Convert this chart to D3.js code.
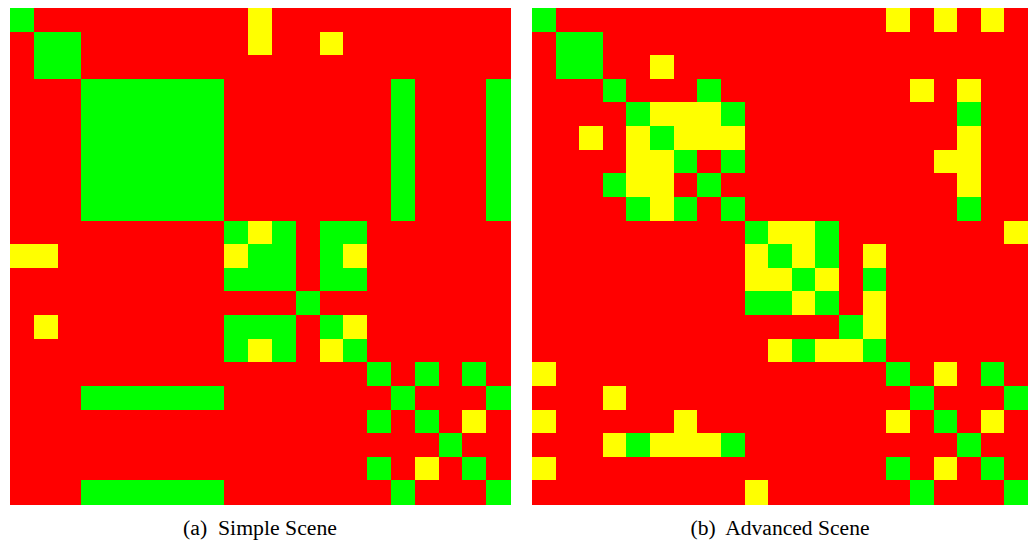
<!DOCTYPE html>
<html>
<head>
<meta charset="utf-8">
<script src="https://cdn.jsdelivr.net/npm/d3@7"></script>
<style>
  html, body { margin: 0; padding: 0; background: #ffffff; }
  svg { display: block; }
</style>
</head>
<body>
<svg id="chart" width="1028" height="541"></svg>
<script>
// Pairwise match levels between 21 scene elements.
// 0 = mismatch (red), 1 = partial (yellow), 2 = match (green)
const simpleScene = [
  "200000000010000000000",
  "022000000010010000000",
  "022000000000000000000",
  "000222222000000020002",
  "000222222000000020002",
  "000222222000000020002",
  "000222222000000020002",
  "000222222000000020002",
  "000222222000000020002",
  "000000000212022000000",
  "110000000122021000000",
  "000000000222022000000",
  "000000000000200000000",
  "010000000222021000000",
  "000000000212012000000",
  "000000000000000202020",
  "000222222000000020002",
  "000000000000000202010",
  "000000000000000000200",
  "000000000000000201020",
  "000222222000000020002"
];

const advancedScene = [
  "200000000000000101010",
  "022000000000000000000",
  "022001000000000000000",
  "000200020000000010100",
  "000021112000000000200",
  "001012111000000000100",
  "000011202000000001100",
  "000211020000000000100",
  "000021202000000000200",
  "000000000211200000001",
  "000000000121201000000",
  "000000000112102000000",
  "000000000221201000000",
  "000000000000021000000",
  "000000000012112000000",
  "100000000000000201020",
  "000100000000000020002",
  "100000100000000102010",
  "000121112000000000200",
  "100000000000000201020",
  "000000000100000020002"
];

const levels = [0, 1, 2];
const levelColors = ["#ff0000", "#ffff00", "#00ff00"];
const captions = ["(a)  Simple Scene", "(b)  Advanced Scene"];

const svg = d3.select("#chart");
const color = d3.scaleOrdinal().domain(levels).range(levelColors);

const panels = [
  { rows: simpleScene,   x0: 10,  x1: 510,  y0: 8, y1: 504, caption: captions[0], capWidth: 154 },
  { rows: advancedScene, x0: 532, x1: 1028, y0: 8, y1: 504, caption: captions[1], capWidth: 179 }
];

panels.forEach(p => {
  const n = p.rows.length;
  const idx = d3.range(n);
  const x = d3.scaleBand().domain(idx).range([p.x0, p.x1]).padding(0);
  const y = d3.scaleBand().domain(idx).range([p.y0, p.y1]).padding(0);

  const cells = [];
  p.rows.forEach((row, r) => {
    row.split("").forEach((ch, c) => cells.push({ r, c, v: +ch }));
  });

  const g = svg.append("g");
  g.selectAll("rect")
    .data(cells)
    .join("rect")
    .attr("x", d => x(d.c))
    .attr("y", d => y(d.r))
    .attr("width", x.bandwidth() + 0.5)
    .attr("height", y.bandwidth() + 0.5)
    .attr("fill", d => color(d.v))
    .attr("shape-rendering", "crispEdges");

  svg.append("text")
    .attr("x", (p.x0 + p.x1) / 2)
    .attr("y", 535)
    .attr("text-anchor", "middle")
    .attr("font-family", "'Liberation Serif', 'DejaVu Serif', serif")
    .attr("font-size", 20)
    .attr("textLength", p.capWidth)
    .attr("lengthAdjust", "spacingAndGlyphs")
    .attr("fill", "#000")
    .style("white-space", "pre")
    .text(p.caption);
});
</script>
</body>
</html>
